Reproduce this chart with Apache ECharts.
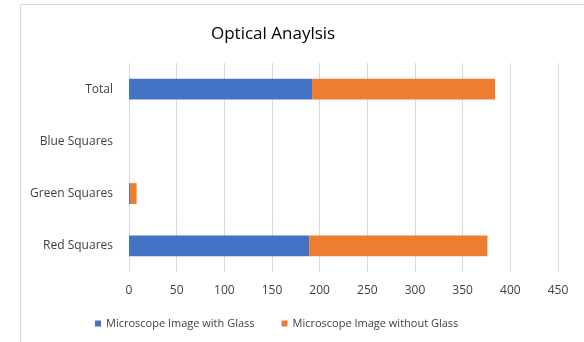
<!DOCTYPE html>
<html><head><meta charset="utf-8">
<script src="https://cdn.jsdelivr.net/npm/echarts@6/dist/echarts.min.js"></script>
<style>html,body{margin:0;padding:0;background:#fff}#c{width:584px;height:342px}</style>
</head><body><div id="c"></div>
<script>
const categories = ['Red Squares', 'Green Squares', 'Blue Squares', 'Total'];
const withGlass = [189, 1, 0, 192];
const withoutGlass = [187, 7, 0, 192];
const seriesNames = ['Microscope Image with Glass', 'Microscope Image without Glass'];
const xTicks = [0, 450, 50];

const chart = echarts.init(document.getElementById('c'));
const font = 'Open Sans';
chart.setOption({
  animation: false,
  backgroundColor: '#fff',
  graphic: [{type: 'rect', shape: {x: 20.5, y: 4.5, width: 600, height: 400}, style: {fill: 'none', stroke: '#d9d9d9', lineWidth: 1}, silent: true}],
  title: {text: 'Optical Anaylsis', left: 206, top: 21,
    textStyle: {fontFamily: font, fontSize: 17, fontWeight: 'normal', color: '#000'}},
  legend: {bottom: 8, left: 90, itemWidth: 6, itemHeight: 6, itemGap: 27, icon: 'rect',
    textStyle: {fontFamily: font, fontSize: 11, color: '#404040'}},
  grid: {left: 129, right: 26, top: 63, bottom: 70},
  xAxis: {type: 'value', min: xTicks[0], max: xTicks[1], interval: xTicks[2],
    axisLine: {show: false}, axisTick: {show: false},
    splitLine: {lineStyle: {color: '#d9d9d9', width: 1}},
    axisLabel: {fontFamily: font, fontSize: 12, color: '#404040', margin: 13}},
  yAxis: {type: 'category', data: categories,
    axisLine: {show: false}, axisTick: {show: false},
    axisLabel: {fontFamily: font, fontSize: 12, color: '#404040', margin: 16}},
  series: [
    {name: seriesNames[0], type: 'bar', stack: 's', data: withGlass, barWidth: '40%', itemStyle: {color: '#4472c4'}},
    {name: seriesNames[1], type: 'bar', stack: 's', data: withoutGlass, barWidth: '40%', itemStyle: {color: '#ed7d31'}}
  ]
});
</script></body></html>
